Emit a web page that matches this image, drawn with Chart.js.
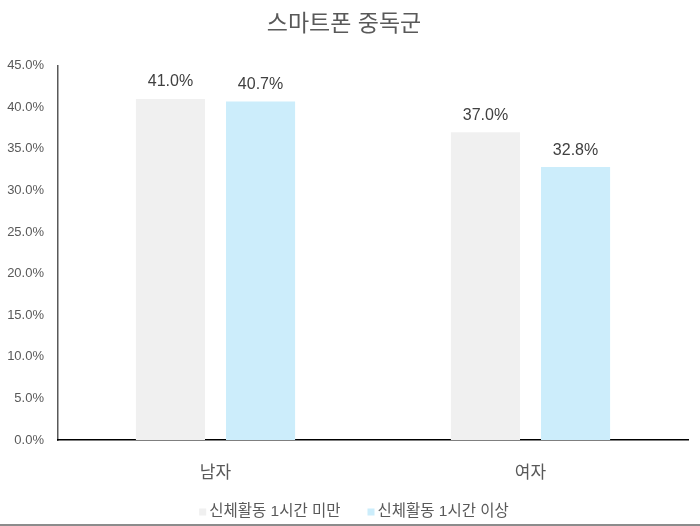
<!DOCTYPE html>
<html>
<head>
<meta charset="utf-8">
<script src="https://cdn.jsdelivr.net/npm/chart.js@4"></script>
<style>
html,body{margin:0;padding:0;background:#fff;}
#wrap{width:700px;height:526px;position:relative;}
</style>
</head>
<body>
<div id="wrap"><canvas id="c" width="700" height="526"></canvas></div>
<script>
const categories = ['남자', '여자'];
const seriesNames = ['신체활동 1시간 미만', '신체활동 1시간 이상'];
const under1h = [41.0, 37.0];
const over1h = [40.7, 32.8];
const title = '스마트폰 중독군';

const FONT = "'Liberation Sans', 'Noto Sans CJK KR', sans-serif";

const labelPlugin = {
  id: 'barLabels',
  afterDatasetsDraw(chart) {
    const ctx = chart.ctx;
    ctx.save();
    ctx.font = '16px ' + FONT;
    ctx.fillStyle = '#404040';
    ctx.textAlign = 'center';
    ctx.textBaseline = 'bottom';
    chart.data.datasets.forEach((ds, i) => {
      chart.getDatasetMeta(i).data.forEach((bar, j) => {
        ctx.fillText(ds.data[j].toFixed(1) + '%', bar.x, bar.y - 9);
      });
    });
    ctx.restore();
  }
};
const legendPlugin = {
  id: 'bottomLegend',
  afterDraw(chart) {
    const ctx = chart.ctx;
    ctx.save();
    ctx.font = '15.5px ' + FONT;
    ctx.textBaseline = 'middle';
    ctx.textAlign = 'left';
    const ds = chart.data.datasets;
    const box = 7, gapBoxText = 3, gapItems = 27, cy = 512;
    const widths = ds.map(d => ctx.measureText(d.label).width);
    let total = 0;
    widths.forEach((w, i) => { total += box + gapBoxText + w + (i < widths.length - 1 ? gapItems : 0); });
    let x = chart.width / 2 - total / 2 + 4;
    ds.forEach((d, i) => {
      ctx.fillStyle = d.backgroundColor;
      ctx.fillRect(x, cy - box / 2, box, box);
      x += box + gapBoxText;
      ctx.fillStyle = '#595959';
      ctx.fillText(d.label, x, cy);
      x += widths[i] + gapItems;
    });
    ctx.strokeStyle = '#8c8c8c';
    ctx.lineWidth = 2;
    ctx.beginPath();
    ctx.moveTo(0, 525);
    ctx.lineTo(700, 525);
    ctx.stroke();
    ctx.restore();
  }
};

new Chart(document.getElementById('c'), {
  type: 'bar',
  data: {
    labels: categories,
    datasets: [
      { label: seriesNames[0], data: under1h, backgroundColor: '#F0F0F0', categoryPercentage: 0.572, barPercentage: 0.767 },
      { label: seriesNames[1], data: over1h, backgroundColor: '#CCEDFB', categoryPercentage: 0.572, barPercentage: 0.767 }
    ]
  },
  options: {
    responsive: false,
    animation: false,
    layout: { padding: { left: 0, right: 12, top: 0, bottom: 0 } },
    plugins: {
      title: {
        display: true, text: title, color: '#595959',
        font: { family: FONT, size: 23, weight: 'normal' },
        padding: { top: 11, bottom: 27 }
      },
      legend: { display: false },
      tooltip: { enabled: false }
    },
    scales: {
      y: {
        min: 0, max: 45,
        ticks: {
          stepSize: 5, color: '#595959', padding: 6,
          font: { family: FONT, size: 13 },
          callback: v => v.toFixed(1) + '%'
        },
        grid: { display: false },
        border: { display: true, color: '#595959', width: 1.5 },
        afterFit(s) { s.width = 58; }
      },
      x: {
        ticks: { color: '#595959', padding: 15, font: { family: FONT, size: 17 } },
        grid: { display: false },
        border: { display: true, color: '#000000', width: 1.5 },
        afterFit(s) { s.height = 86; }
      }
    }
  },
  plugins: [labelPlugin, legendPlugin]
});
</script>
</body>
</html>
